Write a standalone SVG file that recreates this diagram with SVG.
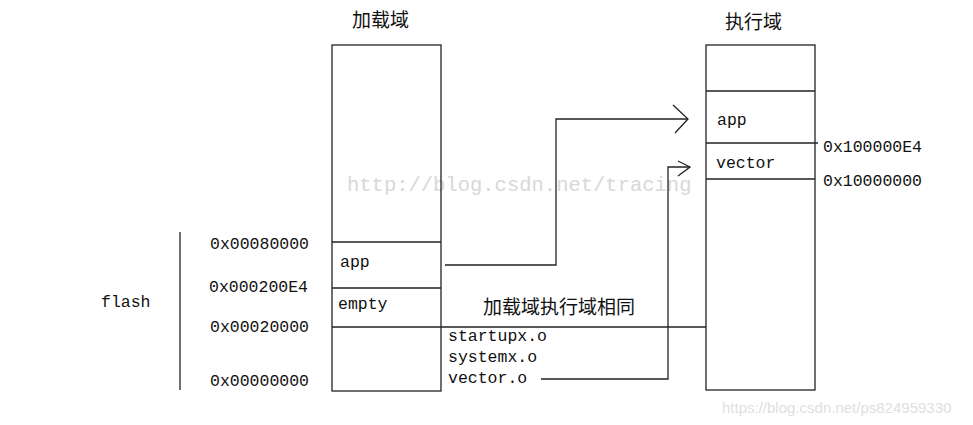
<svg xmlns="http://www.w3.org/2000/svg" width="973" height="425" viewBox="0 0 973 425">
<style>
.box{fill:#fff;stroke:#222;stroke-width:1.3}
.ln{fill:none;stroke:#222;stroke-width:1.3}
.mono{font-family:"Liberation Mono","DejaVu Sans Mono",monospace;font-size:16.5px;fill:#111}
.cjk{font-family:"Noto Sans CJK SC","Noto Sans CJK JP",sans-serif;font-size:19px;fill:#111}
.wm{font-family:"Liberation Mono",monospace;font-size:20.5px;fill:#d8d8d8}
.wm2{font-family:"Liberation Sans",Arial,sans-serif;font-size:15px;fill:#e0e0e0}
</style>
<rect width="973" height="425" fill="#fff"/>
<text class="wm" x="347" y="191">http://blog.csdn.net/tracing</text>
<g id="load-domain">
<rect class="box" x="332" y="45" width="109" height="346" fill-opacity="0"/>
<line class="ln" x1="332" y1="242" x2="441" y2="242"/>
<line class="ln" x1="332" y1="288" x2="441" y2="288"/>
<text class="cjk" x="352" y="27">加载域</text>
<text class="mono" x="340" y="267">app</text>
<text class="mono" x="338" y="309">empty</text>
</g>
<g id="exec-domain">
<rect class="box" x="706" y="45" width="109" height="345" fill-opacity="0"/>
<line class="ln" x1="706" y1="91" x2="815" y2="91"/>
<line class="ln" x1="706" y1="143" x2="818" y2="143"/>
<line class="ln" x1="706" y1="179" x2="815" y2="179"/>
<text class="cjk" x="725" y="29">执行域</text>
<text class="mono" x="717" y="125">app</text>
<text class="mono" x="716" y="168">vector</text>
<text class="mono" x="823" y="152">0x100000E4</text>
<text class="mono" x="823" y="186">0x10000000</text>
</g>
<g id="flash">
<line class="ln" x1="180" y1="232" x2="180" y2="390"/>
<text class="mono" x="101" y="307">flash</text>
<text class="mono" x="210" y="249">0x00080000</text>
<text class="mono" x="209" y="292">0x000200E4</text>
<text class="mono" x="210" y="332">0x00020000</text>
<text class="mono" x="210" y="386">0x00000000</text>
</g>
<g id="shared">
<text class="cjk" x="483" y="314">加载域执行域相同</text>
<text class="mono" x="448" y="341">startupx.o</text>
<text class="mono" x="448" y="362">systemx.o</text>
<text class="mono" x="448" y="383">vector.o</text>
</g>
<g id="connectors">
<line class="ln" x1="332" y1="327" x2="706" y2="327"/>
<polyline class="ln" points="445,265 556,265 556,119 688,119"/>
<polyline class="ln" points="673,105 688,119 675,133"/>
<polyline class="ln" points="541,379 668,379 668,167 690,167"/>
<polyline class="ln" points="678,161 690,167 678,176"/>
</g>
<text class="wm2" x="722" y="413">https://blog.csdn.net/ps824959330</text>
</svg>
